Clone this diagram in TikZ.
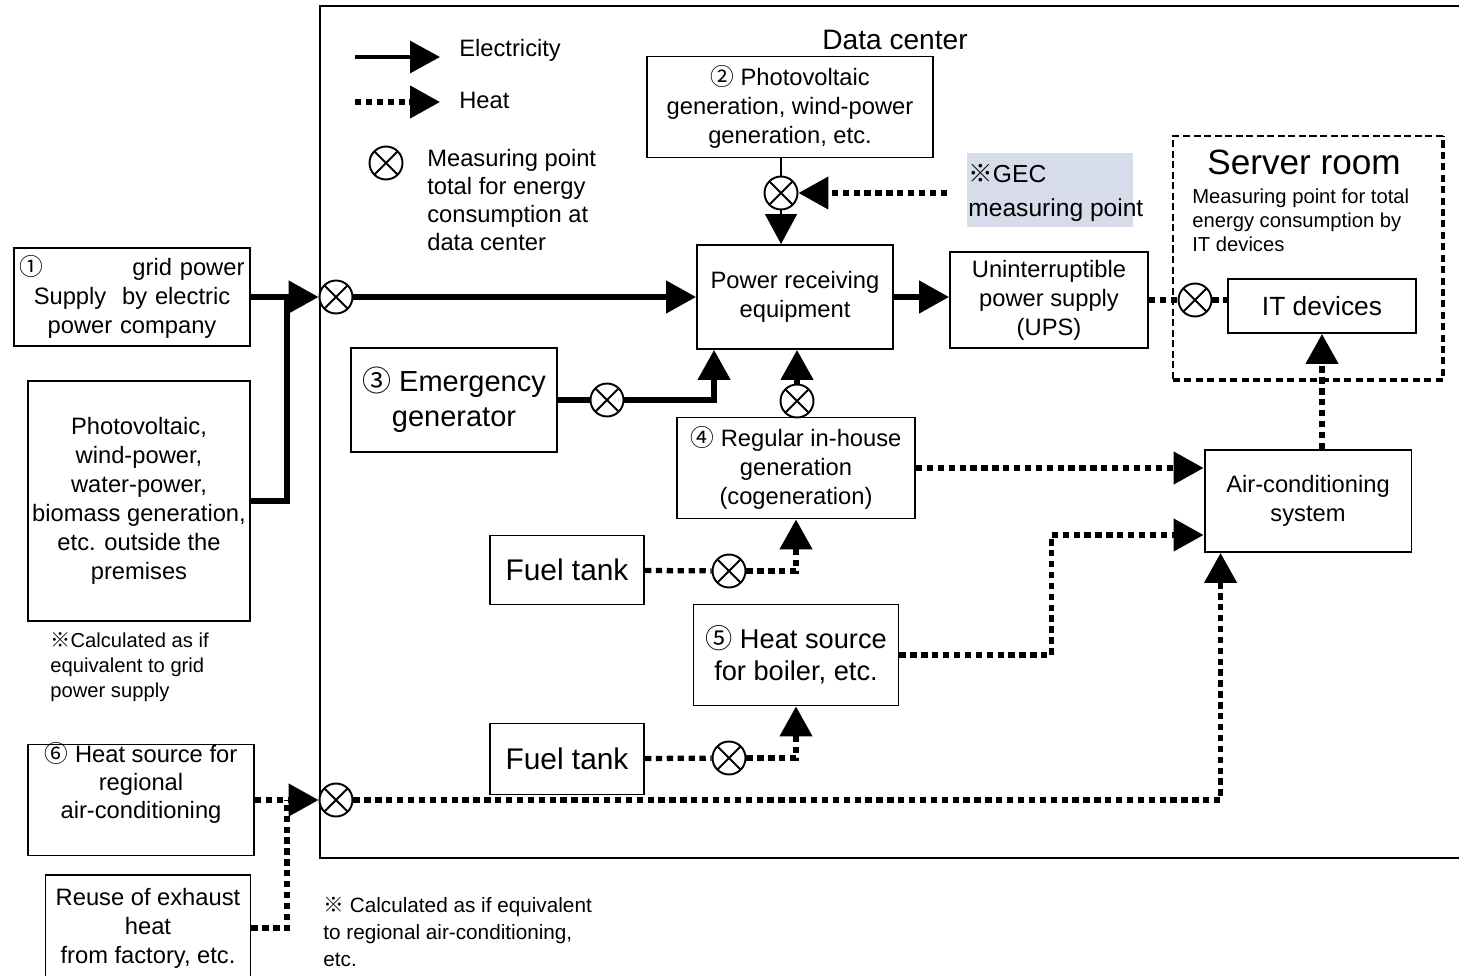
\documentclass[tikz,border=0pt]{standalone}
\usepackage{fontspec}
\setmainfont{Liberation Sans}
\newfontfamily\cjk{Noto Sans CJK JP}
\usetikzlibrary{arrows.meta,positioning,calc}
\definecolor{gecblue}{RGB}{214,220,233}
\newcommand\fsz[2]{\fontsize{#1}{#2}\selectfont}
\tikzset{
  >={Triangle[length=17pt,width=18pt]},
  box/.style={rectangle,draw,line width=1.1pt,align=center,inner sep=2pt,
              font=\fsz{13.5}{16.5}},
  txt/.style={align=left,inner sep=0pt,font=\fsz{13.5}{16}},
  meter/.style={circle,draw,line width=1.1pt,minimum size=0.66cm,inner sep=0pt,fill=white,
    path picture={\draw[line width=1.1pt]
      (path picture bounding box.north west) -- (path picture bounding box.south east)
      (path picture bounding box.north east) -- (path picture bounding box.south west);}},
  elec/.style={line width=3pt,->},
  elecline/.style={line width=3pt},
  thinline/.style={line width=1.3pt},
  heat/.style={line width=3pt,dash pattern=on 3.6pt off 2.6pt,->},
  heatline/.style={line width=3pt,dash pattern=on 3.6pt off 2.6pt},
}

\begin{document}
\begin{tikzpicture}[x=0.02cm,y=-0.02cm]
    \useasboundingbox (0,0) rectangle (1459,976);

    % data center frame and server room
    \draw[line width=1.1pt] (1459,6) -- (320,6) -- (320,858) -- (1459,858);
    \node[font=\fsz{16}{18}] (dctitle) at (895,40) {Data center};
    \draw[line width=0.8pt,dash pattern=on 4pt off 2pt] (1443,136) -- (1173,136) -- (1173,380);
    \draw[line width=2pt,dash pattern=on 4pt off 2.5pt] (1173,380) -- (1443,380) -- (1443,136);
    \node[font=\fsz{20}{22}] (srvtitle) at (1304,162) {Server room};
    \node[txt,anchor=north west,font=\fsz{11.5}{13.6}] (srvnote) at (1192,189)
        {Measuring point for total\\energy consumption by\\IT devices};

    % legend
    \coordinate (le0) at (355,57);
    \coordinate (le1) at (440,57);
    \draw[elec,line width=2.2pt] (le0) -- (le1);
    \node[txt,anchor=west] (lelec) at (459,50) {Electricity};
    \coordinate (lh0) at (355,102);
    \coordinate (lh1) at (440,102);
    \draw[heat] (lh0) -- (lh1);
    \node[txt,anchor=west] (lheat) at (459,100) {Heat};
    \node[meter] (lmeter) at (386,163) {};
    \node[txt,anchor=north west] (lmtxt) at (427,149)
        {Measuring point\\total for energy\\consumption at\\data center};

    % outside sources
    \node[box,text width=4.5cm,minimum width=4.72cm,minimum height=1.96cm] (grid) at (132,297)
        {{\cjk ①}\hfill grid power\\Supply\ \ by electric\\power company};
    \node[box,minimum width=4.44cm,minimum height=4.8cm] (off) at (139,501)
        {Photovoltaic,\\wind-power,\\water-power,\\biomass generation,\\etc. outside the\\premises};
    \node[txt,anchor=north west,font=\fsz{11.5}{14.2}] (note1) at (50,632)
        {{\cjk ※}Calculated as if\\equivalent to grid\\power supply};
    \node[box,minimum width=4.52cm,minimum height=2.22cm] (reg) at (141,800) {};
    \node[align=center,inner sep=0pt,font=\fsz{13.5}{16}] (regtxt) at (141,783)
        {{\cjk ⑥} Heat source for\\regional\\air-conditioning};
    \node[box,minimum width=4.1cm,minimum height=2.12cm] (reuse) at (148,928)
        {Reuse of exhaust\\heat\\from factory, etc.};
    \node[txt,anchor=north west,font=\fsz{11.8}{15.3}] (note2) at (323,897)
        {{\cjk ※} Calculated as if equivalent\\to regional air-conditioning,\\etc.};

    % inside the data center
    \node[box,minimum width=5.72cm,minimum height=2.02cm] (pv2) at (790,107)
        {{\cjk ②} Photovoltaic\\generation, wind-power\\generation, etc.};
    \node[box,draw=none,fill=gecblue,minimum width=3.32cm,minimum height=1.5cm] (gec) at (1050,190) {};
    \node[txt,anchor=west,font=\fsz{14}{19}] (gectxt) at (968,193) {{\cjk ※}GEC\\measuring point};
    \node[box,minimum width=3.92cm,minimum height=2.08cm] (pre) at (795,297)
        {Power receiving\\equipment};
    \node[box,minimum width=3.96cm,minimum height=1.92cm] (ups) at (1049,300)
        {Uninterruptible\\power supply\\(UPS)};
    \node[box,minimum width=3.76cm,minimum height=1.08cm,font=\fsz{15}{17}] (it) at (1322,306) {IT devices};
    \node[box,minimum width=4.12cm,minimum height=2.08cm,font=\fsz{16.5}{20}] (emg) at (454,400)
        {{\cjk ③} Emergency\\generator};
    \node[box,minimum width=4.76cm,minimum height=2.02cm] (cogen) at (796,468)
        {{\cjk ④} Regular in-house\\generation\\(cogeneration)};
    \node[box,minimum width=3.08cm,minimum height=1.38cm,font=\fsz{17}{19}] (fuel1) at (567,570) {Fuel tank};
    \node[box,minimum width=4.1cm,minimum height=2.02cm,font=\fsz{15.5}{18}] (heat5) at (796,655)
        {{\cjk ⑤} Heat source\\for boiler, etc.};
    \node[box,minimum width=3.08cm,minimum height=1.42cm,font=\fsz{17}{19}] (fuel2) at (567,759) {Fuel tank};
    \node[box,minimum width=4.14cm,minimum height=2.04cm] (ac) at (1308,501)
        {Air-conditioning\\system};

    % measuring points
    \node[meter] (m1) at (336,297) {};
    \node[meter] (m2) at (781,193) {};
    \node[meter] (m3) at (607,400) {};
    \node[meter] (m4) at (797,401) {};
    \node[meter] (mf1) at (729,571) {};
    \node[meter] (mf2) at (729,758) {};
    \node[meter] (m6) at (336,800) {};
    \node[meter] (mit) at (1195,300) {};
    \coordinate (jn) at (287,297);
    \coordinate (jn6) at (287,800);

    % electricity
    \draw[elec] (grid.east) -- (m1);
    \draw[elecline] (off.east) -| (jn);
    \draw[elec] (m1) -- (pre);
    \draw[thinline] (pv2.south -| m2) -- (m2);
    \draw[thinline,->] (m2) -- (m2 |- pre.north);
    \draw[elec] (pre.east) -- (pre.east -| ups.west);
    \draw[elecline] (emg) -- (m3);
    \draw[elec] (m3) -| ([xshift=0.36cm]pre.south west);
    \draw[elec] (m4) -- (m4 |- pre.south);

    % heat
    \draw[heat,shorten <=0.38cm] (gec.west |- m2) -- (m2);
    \draw[heatline] (ups.east |- mit) -- (mit);
    \draw[heatline] (mit) -- (it.west |- mit);
    \draw[heatline] (fuel1) -- (mf1);
    \draw[heat] (mf1) -| (cogen.south);
    \draw[heatline] (fuel2) -- (mf2);
    \draw[heat] (mf2) -| (heat5.south);
    \draw[heat] (cogen.east) -- (cogen.east -| ac.west);
    \draw[heat] (heat5.east) -- ++(152,0) |- ([yshift=-0.68cm]ac.west);
    \draw[heat] (ac.north -| it.south) -- (it.south);
    \draw[heat] (reg.east) -- (m6);
    \draw[heatline] (reuse.east) -| (jn6);
    \draw[heat] (m6) -| ([xshift=0.34cm]ac.south west);
\end{tikzpicture}
\end{document}
